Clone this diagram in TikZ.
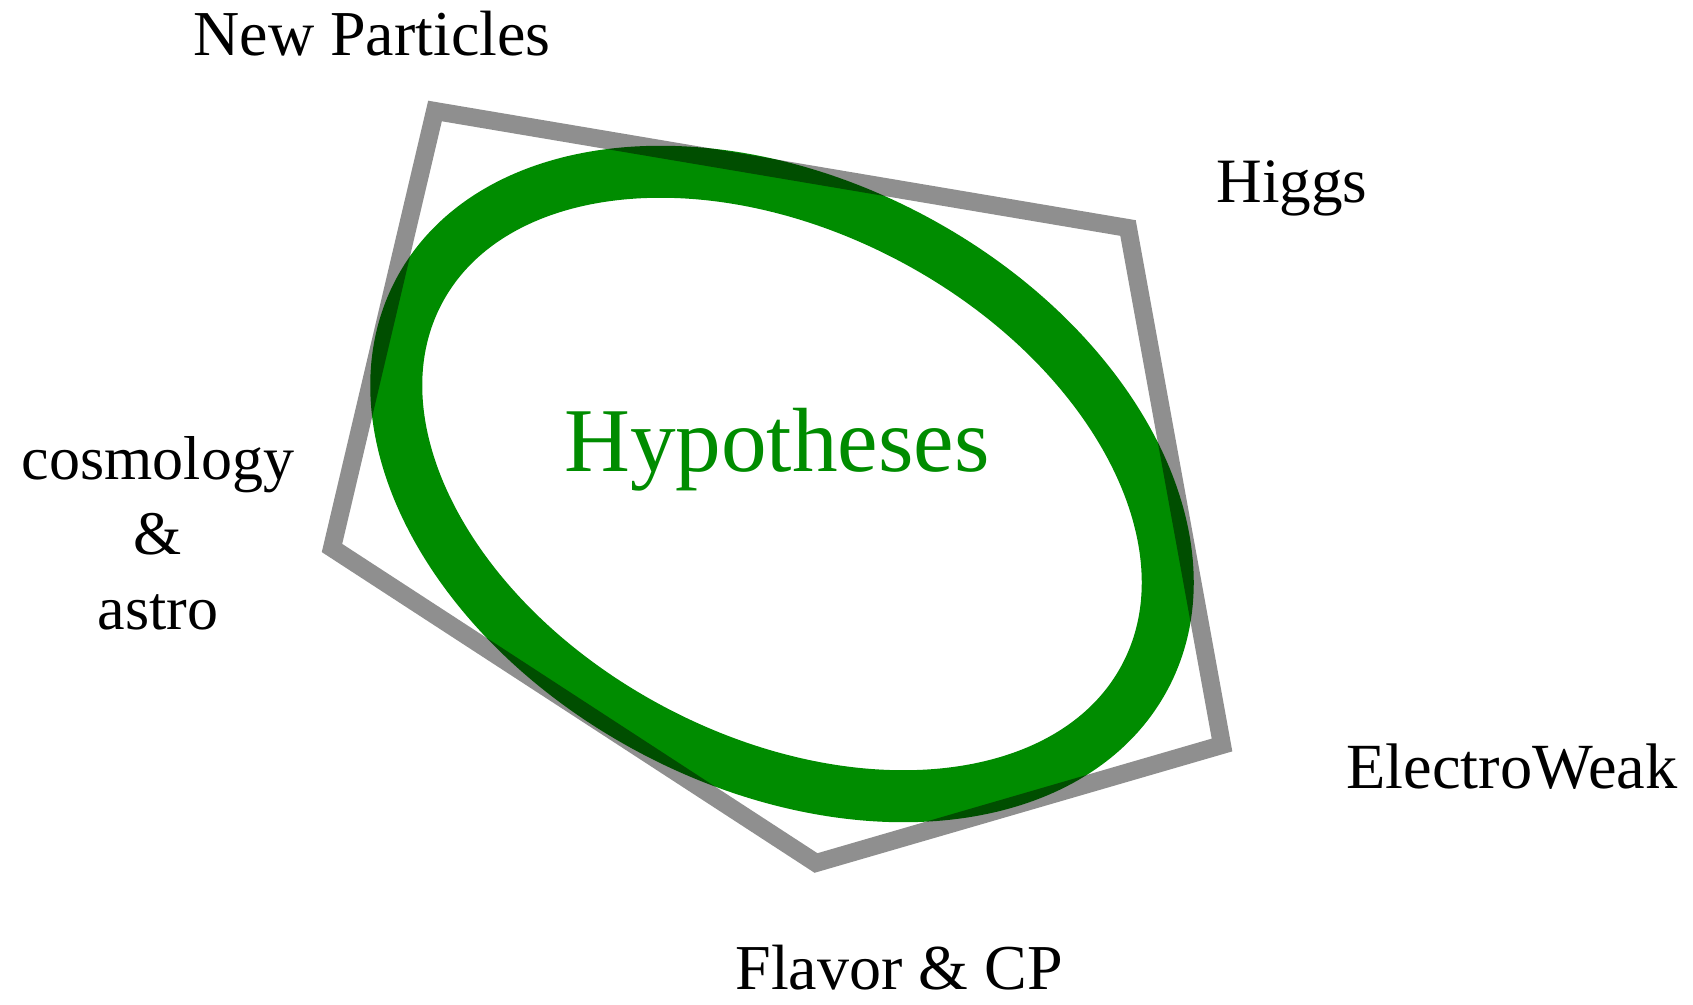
\documentclass[tikz,border=0pt]{standalone}
\usepackage{fontspec}
\setmainfont{Liberation Serif}
\definecolor{hypgreen}{RGB}{0,140,0}
\definecolor{pentgray}{RGB}{143,143,143}
\newcommand{\fsz}[1]{\fontsize{#1}{#1}\selectfont}
\begin{document}
\begin{tikzpicture}[x=0.5pt,y=-0.5pt,
  lbl/.style={anchor=base, inner sep=0pt, text=black},
  ring/.style={draw=hypgreen, line width=26pt},
  pent/.style={draw=pentgray, line width=9pt, line join=miter, blend mode=multiply}]
\useasboundingbox (0,0) rectangle (1693,1005);
% hypotheses ring
\draw[ring, rotate around={-28:(782,484)}] (782,484) ellipse [x radius=411, y radius=278];
% pentagon
\coordinate (pNP) at (435,111);
\coordinate (pH)  at (1128,228);
\coordinate (pEW) at (1222,745);
\coordinate (pFL) at (816,863);
\coordinate (pCA) at (332,548);
\draw[pent] (pNP) -- (pH) -- (pEW) -- (pFL) -- (pCA) -- cycle;
% labels
\node[lbl, font=\fsz{32}] (np) at (372,56) {New Particles};
\node[lbl, font=\fsz{31.6}] (higgs) at (1292,203) {Higgs};
\node[lbl, font=\fsz{31}] (cosmo) at (158,480) {cosmology};
\node[lbl, font=\fsz{31}] (amp) at (158,554) {\&};
\node[lbl, font=\fsz{31}] (astro) at (158,629) {astro};
\node[lbl, font=\fsz{32.2}] (ew) at (1512,788) {ElectroWeak};
\node[lbl, font=\fsz{32}] (flav) at (899,989) {Flavor \& CP};
\node[lbl, font=\fsz{45.6}, text=hypgreen] (hyp) at (777,472) {Hypotheses};
\end{tikzpicture}
\end{document}
